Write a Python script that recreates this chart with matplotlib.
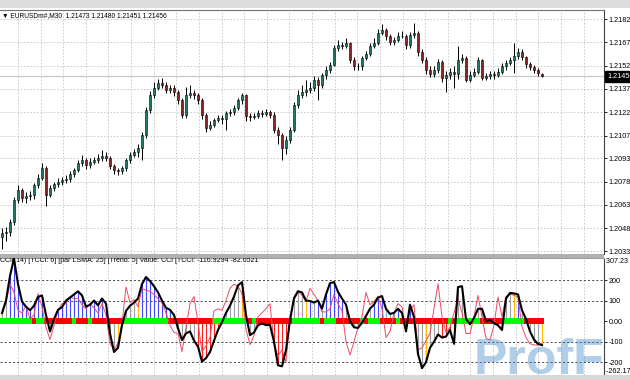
import matplotlib
matplotlib.use("Agg")
import matplotlib.pyplot as plt
from matplotlib.patches import Rectangle
import numpy as np

plt.rcParams['font.family'] = ['Liberation Sans', 'DejaVu Sans']

# ---------------- data ----------------
title_text = "EURUSDm#,M30  1.21473 1.21480 1.21451 1.21456"
indicator_text = "CCI( 14) [TCCI: 6] [par LSMA: 25] [Trend: 5] Value: CCI [TCCI: -116.9294 -82.6521"

opens = [1.20420, 1.20447, 1.20453, 1.20518, 1.20659, 1.20724, 1.20672, 1.20685, 1.20692, 1.20756,
         1.20801, 1.20865, 1.20692, 1.20737, 1.20762, 1.20775, 1.20788, 1.20795, 1.20827, 1.20853,
         1.20898, 1.20917, 1.20885, 1.20904, 1.20917, 1.20930, 1.20943, 1.20930, 1.20878, 1.20853,
         1.20846, 1.20865, 1.20917, 1.20949, 1.20969, 1.20994, 1.21078, 1.21239, 1.21336, 1.21381,
         1.21413, 1.21400, 1.21368, 1.21381, 1.21355, 1.21303, 1.21207, 1.21336, 1.21349, 1.21336,
         1.21303, 1.21207, 1.21123, 1.21142, 1.21175, 1.21187, 1.21181, 1.21220, 1.21226, 1.21252,
         1.21303, 1.21336, 1.21200, 1.21194, 1.21200, 1.21220, 1.21213, 1.21226, 1.21207, 1.21110,
         1.21078, 1.20994, 1.21046, 1.21110, 1.21271, 1.21336, 1.21355, 1.21368, 1.21381, 1.21432,
         1.21400, 1.21464, 1.21497, 1.21529, 1.21638, 1.21658, 1.21651, 1.21670, 1.21561, 1.21522,
         1.21522, 1.21574, 1.21600, 1.21651, 1.21670, 1.21735, 1.21754, 1.21716, 1.21677, 1.21690,
         1.21716, 1.21716, 1.21658, 1.21722, 1.21735, 1.21612, 1.21561, 1.21497, 1.21471, 1.21497,
         1.21548, 1.21445, 1.21464, 1.21484, 1.21471, 1.21561, 1.21574, 1.21432, 1.21464, 1.21484,
         1.21561, 1.21445, 1.21458, 1.21471, 1.21464, 1.21484, 1.21522, 1.21542, 1.21561, 1.21587,
         1.21612, 1.21580, 1.21535, 1.21516, 1.21497, 1.21473]

closes = [1.20447, 1.20453, 1.20518, 1.20659, 1.20724, 1.20672, 1.20685, 1.20692, 1.20756, 1.20801,
          1.20865, 1.20692, 1.20737, 1.20762, 1.20775, 1.20788, 1.20795, 1.20827, 1.20853, 1.20898,
          1.20917, 1.20885, 1.20904, 1.20917, 1.20930, 1.20943, 1.20930, 1.20878, 1.20853, 1.20846,
          1.20865, 1.20917, 1.20949, 1.20969, 1.20994, 1.21078, 1.21239, 1.21336, 1.21381, 1.21413,
          1.21400, 1.21368, 1.21381, 1.21355, 1.21303, 1.21207, 1.21336, 1.21349, 1.21336, 1.21303,
          1.21207, 1.21123, 1.21142, 1.21175, 1.21187, 1.21181, 1.21220, 1.21226, 1.21252, 1.21303,
          1.21336, 1.21200, 1.21194, 1.21200, 1.21220, 1.21213, 1.21226, 1.21207, 1.21110, 1.21078,
          1.20994, 1.21046, 1.21110, 1.21271, 1.21336, 1.21355, 1.21368, 1.21381, 1.21432, 1.21400,
          1.21464, 1.21497, 1.21529, 1.21638, 1.21658, 1.21651, 1.21670, 1.21561, 1.21522, 1.21522,
          1.21574, 1.21600, 1.21651, 1.21670, 1.21735, 1.21754, 1.21716, 1.21677, 1.21690, 1.21716,
          1.21716, 1.21658, 1.21722, 1.21735, 1.21612, 1.21561, 1.21497, 1.21471, 1.21497, 1.21548,
          1.21445, 1.21464, 1.21484, 1.21471, 1.21561, 1.21574, 1.21432, 1.21464, 1.21484, 1.21561,
          1.21445, 1.21458, 1.21471, 1.21464, 1.21484, 1.21522, 1.21542, 1.21561, 1.21587, 1.21612,
          1.21580, 1.21535, 1.21516, 1.21497, 1.21477, 1.21456]

highs = [1.20480, 1.20490, 1.20540, 1.20680, 1.20760, 1.20740, 1.20710, 1.20720, 1.20770, 1.20830,
         1.20900, 1.20880, 1.20760, 1.20780, 1.20800, 1.20810, 1.20820, 1.20850, 1.20870, 1.20920,
         1.20950, 1.20930, 1.20930, 1.20940, 1.20960, 1.20980, 1.20970, 1.20945, 1.20890, 1.20870,
         1.20880, 1.20930, 1.20970, 1.20990, 1.21020, 1.21100, 1.21260, 1.21360, 1.21420, 1.21440,
         1.21445, 1.21420, 1.21400, 1.21400, 1.21370, 1.21320, 1.21390, 1.21400, 1.21370, 1.21350,
         1.21320, 1.21220, 1.21170, 1.21190, 1.21210, 1.21205, 1.21235, 1.21245, 1.21270, 1.21320,
         1.21350, 1.21340, 1.21220, 1.21220, 1.21240, 1.21240, 1.21245, 1.21240, 1.21230, 1.21130,
         1.21090, 1.21070, 1.21130, 1.21290, 1.21370, 1.21400, 1.21430, 1.21420, 1.21460, 1.21450,
         1.21480, 1.21520, 1.21550, 1.21660, 1.21690, 1.21680, 1.21700, 1.21680, 1.21580, 1.21545,
         1.21590, 1.21620, 1.21670, 1.21700, 1.21760, 1.21790, 1.21770, 1.21730, 1.21710, 1.21740,
         1.21745, 1.21730, 1.21740, 1.21800, 1.21750, 1.21630, 1.21580, 1.21520, 1.21520, 1.21570,
         1.21560, 1.21490, 1.21510, 1.21520, 1.21650, 1.21600, 1.21590, 1.21490, 1.21510, 1.21580,
         1.21570, 1.21480, 1.21490, 1.21490, 1.21510, 1.21540, 1.21560, 1.21580, 1.21670, 1.21640,
         1.21630, 1.21590, 1.21550, 1.21530, 1.21510, 1.21480]

lows = [1.20345, 1.20400, 1.20430, 1.20500, 1.20640, 1.20650, 1.20640, 1.20660, 1.20670, 1.20740,
        1.20790, 1.20620, 1.20680, 1.20720, 1.20745, 1.20760, 1.20770, 1.20780, 1.20810, 1.20840,
        1.20880, 1.20860, 1.20870, 1.20890, 1.20900, 1.20910, 1.20910, 1.20860, 1.20830, 1.20825,
        1.20830, 1.20850, 1.20900, 1.20935, 1.20940, 1.20917, 1.21060, 1.21220, 1.21320, 1.21370,
        1.21380, 1.21350, 1.21350, 1.21330, 1.21280, 1.21190, 1.21190, 1.21320, 1.21310, 1.21280,
        1.21180, 1.21100, 1.21110, 1.21130, 1.21160, 1.21150, 1.21110, 1.21200, 1.21210, 1.21240,
        1.21280, 1.21170, 1.21170, 1.21180, 1.21190, 1.21195, 1.21200, 1.21190, 1.21090, 1.21020,
        1.20917, 1.20960, 1.21030, 1.21100, 1.21250, 1.21320, 1.21330, 1.21350, 1.21360, 1.21303,
        1.21380, 1.21440, 1.21480, 1.21520, 1.21620, 1.21630, 1.21640, 1.21540, 1.21500, 1.21500,
        1.21500, 1.21560, 1.21590, 1.21640, 1.21660, 1.21720, 1.21690, 1.21660, 1.21660, 1.21680,
        1.21700, 1.21630, 1.21640, 1.21700, 1.21590, 1.21540, 1.21470, 1.21450, 1.21450, 1.21480,
        1.21420, 1.21355, 1.21440, 1.21380, 1.21440, 1.21540, 1.21420, 1.21420, 1.21450, 1.21470,
        1.21430, 1.21430, 1.21440, 1.21440, 1.21450, 1.21470, 1.21500, 1.21530, 1.21480, 1.21570,
        1.21560, 1.21510, 1.21500, 1.21480, 1.21460, 1.21451]

tcci = [40, 100, 220, 305, 180, 95, 70, 53, 75, 118,
        125, 30, -50, 10, 55, 68, 100, 115, 130, 145,
        125, 70, 80, 100, 77, 110, 85, -60, -150, -130,
        -20, 50, 75, 90, 110, 180, 215, 195, 170, 140,
        100, 65, 55, 30, -35, -92, -60, -50, -95, -124,
        -197, -180, -150, -95, -43, -5, 40, 75, 120, 174,
        190, 30, -68, -55, -20, -12, -19, -19, -100, -215,
        -220, -140, 5, 110, 145, 140, 100, 98, 90, 100,
        61, 130, 185, 190, 142, 110, 80, 0, -30, -33,
        -8, 25, 61, 80, 115, 122, 60, 35, 40, 60,
        40, -50, 80, 20, -160, -229, -200, -130, -100, -65,
        -80, -75, -43, -110, 166, 170, 10, -15, 15, 60,
        60, 0, 5, -10, -20, -43, 110, 137, 135, 130,
        53, 10, -50, -90, -111, -117]

cci = [30, 90, 180, 140, 53, 40, 75, 10, 30, 134,
       70, -30, -90, -20, 53, 85, 85, 118, 110, 110,
       80, 60, 85, 65, 40, 85, 30, -108, -140, -108,
       -11, 166, 90, 105, 70, 158, 150, 145, 130, 108,
       90, 40, -20, -55, -60, -148, -30, 85, 120, -10,
       -150, -120, -80, 50, 60, 53, 100, 160, 180, 170,
       134, -40, -115, -70, 21, 40, 60, 85, -110, -170,
       -140, -200, 20, 120, 150, 125, 95, 160, 130, 100,
       45, 45, 60, 130, 85, 50, -100, -165, -100, -30,
       21, 140, 80, 95, 120, 61, -80, -50, 40, 85,
       70, -45, 50, 80, -140, -130, -95, -60, 60, 182,
       21, -55, -30, 40, 110, 40, -60, -60, 20, 125,
       21, -84, -92, -20, 118, 21, 120, 134, 125, 118,
       -27, -80, -110, -116, -116, -108]

# histogram colour state per bar: b=blue, g=gray, r=red, y=yellow
hist_state = ("gg" "bbbbbbbbb" "gg" "bbbbbbbbbbbbbb" "ggyg" "gggy" "bbbbbbbbb" "ggggg"
              "rrrrrr" "gggggy" "ggggggg" "rrrr" "ggggy" "bgbg" "bbbbb" "ggggggg" "bbb"
              "gggb" "gg" "bb" "ggy" "ggg" "rrrr" "gg" "rr" "ggg" "rrrrr" "ggyb" "ggggg" "y")
# trend bar state per bar: G=green, R=red
trend_state = ("GGGGGGGG" "R" "GG" "RRRRRRR" "G" "RRR" "G" "RRRRRRRR" "GGGGGGGGGGG"
               "RRRRRRRRRRR" "GGGGGGGGG" "R" "G" "RRRRRRRRR" "GGGGGGG" "R" "GGG" "RRRRRR"
               "G" "R" "GGG" "RRRR" "G" "RRRRRRRRRRRR" "G" "R" "GGGGGG" "RRRRRR" "GGGGG" "RRRRR")

price_ticks = [1.21825, 1.21675, 1.21525, 1.21375, 1.21225, 1.21075,
               1.20930, 1.20780, 1.20630, 1.20480, 1.20330]
price_labels = ["1.21825", "1.21675", "1.21525", "1.21375", "1.21225", "1.21075",
                "1.20930", "1.20780", "1.20630", "1.20480", "1.20330"]
price_range = (1.20317, 1.21883)
last_price = 1.21456
last_label = "1.21456"

cci_ticks = [200, 100, 0, -100, -200]
cci_labels = ["200", "100", "0.00", "-100", "-200"]
cci_range = (-262.17, 307.23)
cci_top_label = "307.23"
cci_bottom_label = "-262.17"

# ---------------- figure ----------------
W, H = 630, 380
fig = plt.figure(figsize=(W / 100, H / 100), dpi=100)
fig.patch.set_facecolor("white")

def frac(x0, y0, x1, y1):
    return [x0 / W, 1 - y1 / H, (x1 - x0) / W, (y1 - y0) / H]

# window chrome
fig.patches.append(Rectangle((0, 1 - 8 / H), 1, 8 / H, transform=fig.transFigure,
                             facecolor="#dcdcdc", edgecolor="none", zorder=0))
fig.patches.append(Rectangle((0, 0), 1, 5 / H, transform=fig.transFigure,
                             facecolor="#d8d8d8", edgecolor="none", zorder=0))
fig.patches.append(Rectangle((0, 1 - 257.5 / H), 604 / W, 4 / H, transform=fig.transFigure,
                             facecolor="#b0b0b0", edgecolor="none", zorder=0))

ax1 = fig.add_axes(frac(0, 10, 604, 253.5))
ax2 = fig.add_axes(frac(0, 258, 604, 375))

n = np.arange(len(closes))
xlim = (-0.5, 150.5)
grid_x = 4.0 + 5.655 * np.arange(26)

LBL = 5.2

# ---- price panel ----
ax1.set_xlim(*xlim)
ax1.set_ylim(*price_range)
for gx in grid_x:
    ax1.axvline(gx, color="#c4c4c4", lw=0.6, ls=(0, (2, 2)), zorder=0)
for py in price_ticks:
    ax1.axhline(py, color="#c4c4c4", lw=0.6, ls=(0, (2, 2)), zorder=0)
ax1.axhline(last_price, color="#c8c8c8", lw=0.9, zorder=0.5)

o = np.array(opens); c = np.array(closes)
ax1.vlines(n, lows, highs, color="black", lw=0.7, zorder=2)
body_col = np.where(c >= o, "#24786a", "#8a2424")
body_h = np.maximum(np.abs(c - o), 0.00003)
ax1.bar(n, body_h, bottom=np.minimum(o, c), width=0.7, color=body_col,
        edgecolor="black", linewidth=0.4, zorder=3)

ax1.yaxis.tick_right()
ax1.set_yticks(price_ticks)
ax1.set_yticklabels(price_labels)
ax1.tick_params(axis="y", direction="out", length=2.2, width=0.6, labelsize=LBL, pad=1.2)
ax1.set_xticks([])
ax1.spines["left"].set_visible(False)
ax1.spines["bottom"].set_visible(False)
ax1.spines["top"].set_color("#707070")
ax1.spines["right"].set_color("#404040")
ax1.annotate(last_label, xy=(1, last_price), xycoords=("axes fraction", "data"),
             xytext=(2.5, 0), textcoords="offset points", va="center", ha="left",
             fontsize=LBL, color="white",
             bbox=dict(boxstyle="square,pad=0.3", fc="black", ec="black"))
fig.text(2 / W, 1 - 15.5 / H, "\u25bc " + title_text, fontsize=4.8, va="center", ha="left")

# ---- CCI panel ----
ax2.set_xlim(*xlim)
ax2.set_ylim(*cci_range)
for gx in grid_x:
    ax2.axvline(gx, color="#c4c4c4", lw=0.6, ls=(0, (2, 2)), zorder=0)
for lv in cci_ticks:
    if lv != 0:
        ax2.axhline(lv, color="#303030", lw=0.6, ls=(0, (2.5, 2.5)), zorder=0.5)

hist_map = {"b": "#4646ff", "g": "#a0a0a0", "r": "#ff1e1e", "y": "#ffbb00"}
trend_map = {"G": "#00ff00", "R": "#ff0000"}
ax2.vlines(n, 0, tcci, colors=[hist_map[s] for s in hist_state], lw=0.8, zorder=1)
ax2.bar(n, 26, bottom=-13, width=1.0, color=[trend_map[s] for s in trend_state],
        linewidth=0, zorder=2)
ax2.plot(n, cci, color="#ec4b63", lw=0.7, zorder=3)
ax2.plot(n, tcci, color="black", lw=1.5, zorder=4)

ax2.yaxis.tick_right()
ax2.set_yticks(cci_ticks)
ax2.set_yticklabels(cci_labels)
ax2.tick_params(axis="y", direction="out", length=2.2, width=0.6, labelsize=LBL, pad=1.2)
ax2.set_xticks([])
ax2.spines["left"].set_visible(False)
ax2.spines["bottom"].set_visible(False)
ax2.spines["top"].set_color("#a0a0a0")
ax2.spines["right"].set_color("#404040")
ax2.text(1.0, 1.0, " " + cci_top_label, transform=ax2.transAxes, fontsize=LBL,
         va="top", ha="left")
ax2.text(1.0, 0.0, " " + cci_bottom_label, transform=ax2.transAxes, fontsize=LBL,
         va="bottom", ha="left")
ax2.text(0.0, 0.975, indicator_text, transform=ax2.transAxes, fontsize=5,
         va="center", ha="left")

# watermark
fig.text(474 / W, -4 / H, "ProfF", fontsize=36, fontweight="bold",
         color="#3d85c6", alpha=0.4, ha="left", va="bottom")

fig.savefig("out.png", dpi=100)
